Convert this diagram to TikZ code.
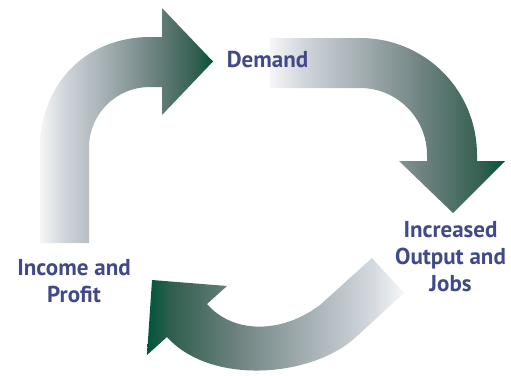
\documentclass[tikz,border=0pt]{standalone}
\usepackage{fontspec}
\setsansfont{PT Sans}

\definecolor{labelblue}{RGB}{64,74,136}
\definecolor{shadeA}{RGB}{246,246,246}
\definecolor{shadeB}{RGB}{208,214,220}
\definecolor{shadeC}{RGB}{172,181,186}
\definecolor{shadeD}{RGB}{112,132,130}
\definecolor{shadeE}{RGB}{50,95,80}
\definecolor{shadeF}{RGB}{0,85,60}

% white on the left, dark green on the right
\pgfdeclarehorizontalshading{cycleshade}{100bp}{color(0bp)=(shadeA); color(25bp)=(shadeA);
  color(32bp)=(shadeB); color(42bp)=(shadeC); color(57bp)=(shadeD);
  color(70bp)=(shadeE); color(75bp)=(shadeF); color(100bp)=(shadeF)}

\begin{document}
\begin{tikzpicture}[x=1pt,y=-1pt,
    phase/.style={text=labelblue,font=\sffamily\bfseries\fontsize{23}{27}\selectfont,align=center,inner sep=0pt},
    cyclearrow/.style={shading=cycleshade}]
    \useasboundingbox (0,0) rectangle (511,375);

    % up and round to the right
    \shade[cyclearrow] (40,243) -- (40,148) .. controls (40,84) and (86,37) .. (150,37)
        -- (162,37) -- (162,8) -- (213,61.5) -- (162,115) -- (162,87) -- (150,87)
        .. controls (116,87) and (89,114) .. (89,148) -- (89,243) -- cycle;
    % across and down
    \shade[cyclearrow] (270,38) -- (360,38) .. controls (425,38) and (477,90) .. (477,155)
        -- (477,161) -- (505,161) -- (453,213) -- (399,161) -- (427,161) -- (427,155)
        .. controls (427,118) and (397,88) .. (360,88) -- (270,88) -- cycle;
    % back along the bottom
    \shade[cyclearrow,shading angle=180] (372,258) -- (404,293) -- (355,338)
        .. controls (310,378) and (210,385) .. (167,337) -- (147,355) -- (152,280)
        -- (227,286) -- (207,304) .. controls (232,333) and (280,335) .. (320,305) -- cycle;

    \node[phase,anchor=base] (demand) at (267.5,67) {Demand};
    \node[phase,anchor=base] (income) at (74,302) {Income and\\Profit};
    \node[phase,anchor=base] (output) at (450.5,291) {Increased\\Output and\\Jobs};
\end{tikzpicture}
\end{document}
